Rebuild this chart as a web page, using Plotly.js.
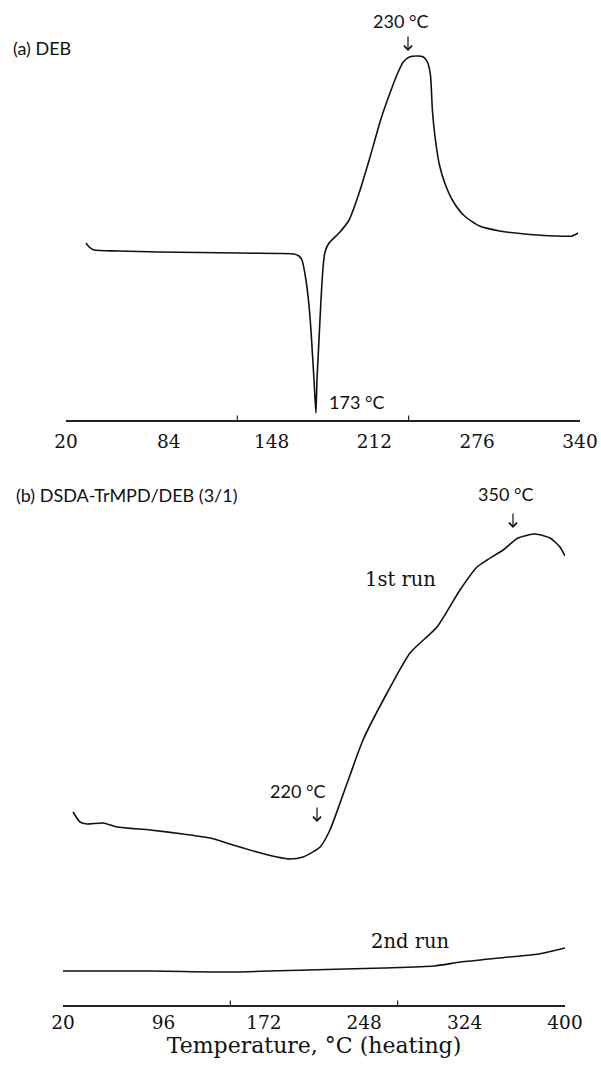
<!DOCTYPE html>
<html>
<head>
<meta charset="utf-8">
<script src="https://cdn.plot.ly/plotly-3.0.1.min.js"></script>
<style>html,body{margin:0;padding:0;background:#fff;}</style>
</head>
<body>
<div id="chart" style="width:601px;height:1077px;"></div>
<script>
// ---- Panel (a): DEB ----
const debTemp = [32.5,34.4,37.5,52.5,77.5,102.5,127.5,152.5,161.9,165,166.9,169.4,171.25,172.5,174.4,175.6,176.25,177.5,178.75,180,181.25,183.75,190,196.25,202.5,208.75,216.25,221.25,226.25,230,233.75,238.75,242.5,245,246.9,248.1,250,252.5,256.25,261.25,268.1,277.5,290,305.6,324.4,335,338.75];
const debHeat = [17.7,17.3,17.0,16.9,16.8,16.75,16.7,16.65,16.6,16.4,16.0,14.0,11.5,9.0,4.0,0.7,4.0,8.0,12.0,15.2,16.8,17.7,18.7,20.0,22.7,26.0,30.2,32.5,34.6,35.8,36.3,36.4,36.3,35.8,34.5,31.0,28.0,25.5,23.5,21.8,20.4,19.4,18.9,18.6,18.4,18.4,18.7];
const aTickLabels = [20,84,148,212,276,340];
const aTickMarks = [126.67,233.33];

// ---- Panel (b): DSDA-TrMPD/DEB (3/1) ----
const run1Temp = [27.6,32.9,38.2,50.3,60.9,85.9,110.8,131.3,148.7,166.9,182.0,191.8,201.7,214.6,222.1,229.7,237.3,247.1,265.3,282.7,303.1,320.5,333.4,341.0,353.1,364.4,377.3,388.7,396.2,400];
const run1Heat = [19.3,18.3,18.1,18.2,17.8,17.5,17.1,16.7,16.0,15.3,14.8,14.6,14.8,15.8,17.5,20.2,23.0,26.5,31.2,35.2,37.8,41.5,43.8,44.5,45.5,46.7,47.1,46.7,45.8,44.9];
const run2Temp = [20,88,147,205,263,301,321,350,380,400];
const run2Heat = [3.4,3.4,3.3,3.5,3.7,3.9,4.3,4.7,5.1,5.7];
const bTickLabels = [20,96,172,248,324,400];
const bTickMarks = [146.67,273.33];

// layout helpers (pixel -> paper)
const W = 601, TOP = 20, BOT = 1005, H = BOT - TOP;
const px = x => x / W;
const py = y => (BOT - y) / H;

const serif = "DejaVu Serif, Liberation Serif, serif";
const sans = "Lato, Open Sans, sans-serif";
const lineStyle = {color:'#111', width:1.6, shape:'spline', smoothing:0.6};

const traces = [
  {x: debTemp, y: debHeat, xaxis:'x', yaxis:'y', mode:'lines', line: lineStyle, hoverinfo:'skip'},
  {x: run1Temp, y: run1Heat, xaxis:'x2', yaxis:'y2', mode:'lines', line: lineStyle, hoverinfo:'skip'},
  {x: run2Temp, y: run2Heat, xaxis:'x2', yaxis:'y2', mode:'lines', line: lineStyle, hoverinfo:'skip'}
];

const xCommon = {
  showline:true, linecolor:'#222', linewidth:1.5, showgrid:false, zeroline:false,
  ticks:'', tickfont:{family:serif, size:18.5, color:'#111'}, fixedrange:true
};
const yCommon = {visible:false, showgrid:false, zeroline:false, fixedrange:true};

const shapes = [];
aTickMarks.forEach(t => shapes.push({type:'line', xref:'x', yref:'y', x0:t, x1:t, y0:0, y1:0.45, line:{color:'#222', width:1.2}}));
bTickMarks.forEach(t => shapes.push({type:'line', xref:'x2', yref:'y2', x0:t, x1:t, y0:0, y1:0.45, line:{color:'#222', width:1.2}}));

function lab(text, x, y, opts) {
  return Object.assign({xref:'paper', yref:'paper', x:px(x), y:py(y), text:text, showarrow:false,
    xanchor:'center', yanchor:'middle', font:{family:sans, size:18, color:'#111'}}, opts || {});
}
// downward pointer: tip at (x, yTip) in pixels, tail 15 px above
function arrow(x, yTip) {
  return {xref:'paper', yref:'paper', x:px(x), y:py(yTip), text:'', showarrow:true,
    ax:0, ay:-16, arrowhead:4, arrowsize:1.3, arrowwidth:1.2, arrowcolor:'#111', standoff:0, startstandoff:0};
}

const annotations = [
  lab('(a) DEB', 11, 48, {xanchor:'left'}),
  lab('230 °C', 400, 21),
  arrow(408, 51),
  lab('173 °C', 327, 402, {xanchor:'left'}),
  lab('(b) DSDA-TrMPD/DEB (3/1)', 14, 495, {xanchor:'left'}),
  lab('350 °C', 505, 494),
  arrow(513, 528),
  lab('220 °C', 297, 791),
  arrow(317, 822),
  lab('1st run', 400, 580, {font:{family:serif, size:19.5, color:'#111'}}),
  lab('2nd run', 411, 941, {font:{family:serif, size:19.5, color:'#111'}})
];

const layout = {
  width: 601, height: 1077,
  margin: {l:0, r:0, t:TOP, b:1077-BOT},
  paper_bgcolor:'#fff', plot_bgcolor:'rgba(0,0,0,0)',
  showlegend:false,
  xaxis: Object.assign({}, xCommon, {domain:[px(66), px(580)], range:[20,340], anchor:'y',
    ticklabelstandoff:4, tickvals:aTickLabels, ticktext:aTickLabels.map(String)}),
  yaxis: Object.assign({}, yCommon, {domain:[py(420), py(50)], range:[0,37], anchor:'x'}),
  xaxis2: Object.assign({}, xCommon, {domain:[px(63), px(565)], range:[20,400], anchor:'y2',
    tickvals:bTickLabels, ticktext:bTickLabels.map(String),
    title:{text:'Temperature, °C (heating)', font:{family:serif, size:22, color:'#111'}, standoff:2}}),
  yaxis2: Object.assign({}, yCommon, {domain:[0, py(505)], range:[0,50], anchor:'x2'}),
  shapes: shapes,
  annotations: annotations
};

Plotly.newPlot('chart', traces, layout, {staticPlot:true, displayModeBar:false});
</script>
</body>
</html>
